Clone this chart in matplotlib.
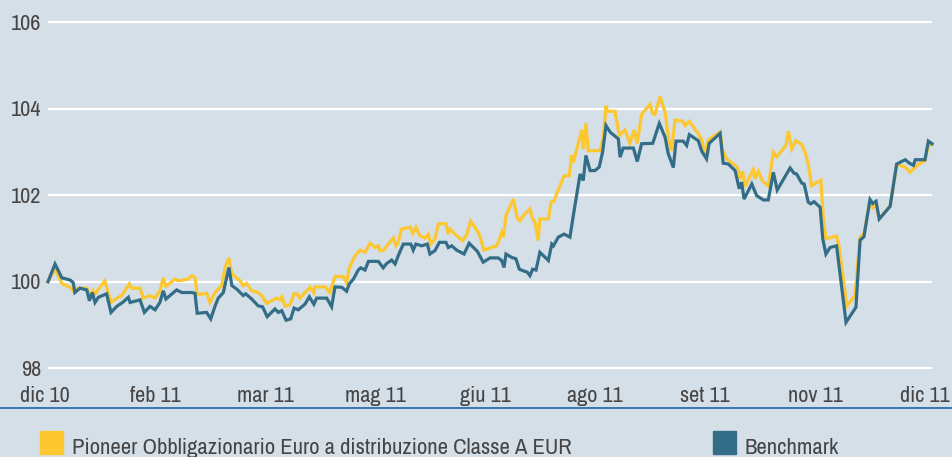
import matplotlib
matplotlib.use("Agg")
import matplotlib.pyplot as plt
import matplotlib.transforms as mtransforms
from matplotlib.patches import Rectangle

# values (x = days since the start, dic 10)
fund_days = [0, 2.9, 5.7, 9.1, 10.4, 12.5, 16.0, 17.3, 18.5, 19.4, 23.5, 26.0, 28.4, 30.4,
             33.6, 34.6, 38.0, 39.3, 42.1, 44.2, 46.2, 47.6, 48.7, 52.4, 53.8, 57.9, 59.3,
             60.7, 61.6, 65.5, 66.9, 69.0, 70.3, 71.7, 73.1, 74.7, 75.9, 79.3, 80.6, 82.0,
             84.1, 86.8, 88.2, 90.3, 92.4, 94.4, 95.8, 96.5, 97.9, 99.9, 101.6, 102.9, 104.0,
             106.1, 108.2, 109.8, 110.2, 114.4, 116.4, 118.5, 121.9, 123.3, 124.4, 126.8,
             128.8, 130.9, 133.0, 135.0, 136.4, 137.1, 138.4, 140.5, 142.6, 143.7, 144.6,
             146.0, 149.5, 150.6, 151.9, 153.6, 155.7, 157.0, 158.0, 159.8, 161.2, 164.3,
             165.3, 166.0, 168.0, 171.2, 172.9, 174.5, 176.3, 178.1, 180.0, 182.5, 185.3,
             185.9, 187.3, 188.0, 189.1, 192.1, 193.8, 194.9, 196.3, 199.0, 200.1, 201.1,
             202.4, 203.1, 206.6, 207.7, 208.9, 210.0, 213.1, 215.2, 216.2, 216.9, 220.4,
             221.0, 222.1, 223.1, 227.9, 229.3, 230.4, 230.9, 234.1, 235.9, 238.2, 240.3,
             242.0, 243.3, 245.1, 248.6, 249.7, 250.6, 252.7, 254.8, 256.1, 257.5, 258.9,
             262.1, 263.0, 264.8, 268.5, 269.9, 271.3, 272.6, 277.5, 278.6, 280.2, 283.7,
             285.0, 285.7, 286.8, 287.8, 291.2, 291.9, 293.3, 295.1, 297.4, 299.5, 300.9,
             304.7, 305.7, 307.1, 308.8, 311.2, 312.6, 313.9, 315.3, 319.1, 320.1, 321.2,
             325.6, 326.7, 329.8, 333.2, 335.3, 336.9, 339.4, 340.5, 341.9, 343.2, 347.7,
             350.4, 351.8, 353.9, 355.9, 359.3, 362.1, 363.5, 365.0]
fund_vals = [100.00, 100.30, 99.96, 99.87, 99.79, 99.85, 99.85, 99.68, 99.79, 99.72, 100.02,
             99.52, 99.62, 99.68, 99.95, 99.85, 99.85, 99.62, 99.68, 99.62, 99.79, 100.09,
             99.89, 100.06, 100.02, 100.06, 100.14, 100.10, 99.70, 99.73, 99.52, 99.75, 99.83,
             99.91, 100.33, 100.55, 100.18, 100.02, 99.91, 99.96, 99.79, 99.75, 99.68, 99.50,
             99.56, 99.62, 99.58, 99.65, 99.44, 99.47, 99.72, 99.72, 99.62, 99.75, 99.87,
             99.75, 99.88, 99.88, 99.75, 100.12, 100.12, 99.98, 100.32, 100.60, 100.73,
             100.68, 100.89, 100.79, 100.83, 100.72, 100.72, 100.87, 101.01, 100.83, 100.91,
             101.22, 101.26, 101.12, 101.26, 101.06, 101.01, 101.10, 100.87, 100.99, 101.34,
             101.34, 101.10, 101.22, 101.10, 100.95, 101.09, 101.40, 101.26, 101.09, 100.73,
             100.78, 100.83, 100.91, 101.14, 101.03, 101.53, 101.91, 101.47, 101.41, 101.53,
             101.68, 101.45, 101.37, 100.95, 101.45, 101.45, 101.84, 101.86, 102.03, 102.45,
             102.45, 102.92, 102.76, 103.51, 103.07, 103.66, 103.03, 103.03, 103.34, 104.07,
             103.94, 103.94, 103.38, 103.51, 103.20, 103.51, 103.20, 103.87, 104.10, 103.88,
             103.87, 104.28, 103.92, 103.34, 103.03, 103.74, 103.71, 103.61, 103.71, 103.42,
             103.28, 102.92, 103.28, 103.46, 103.03, 102.84, 102.69, 102.61, 102.38, 102.55,
             102.20, 102.59, 102.38, 102.55, 102.32, 102.22, 102.99, 102.89, 103.15, 103.48,
             103.07, 103.26, 103.17, 102.99, 102.72, 102.22, 102.35, 101.49, 100.99, 101.06,
             100.79, 99.44, 99.68, 101.03, 101.10, 101.87, 101.71, 101.80, 101.45, 101.76,
             102.69, 102.69, 102.65, 102.53, 102.71, 102.80, 103.15, 103.17]

bench_days = [0, 2.9, 5.7, 9.1, 10.4, 11.1, 13.2, 16.0, 17.1, 18.3, 19.4, 20.8, 24.2, 26.0,
              28.4, 30.8, 33.2, 33.9, 38.0, 39.8, 42.1, 44.2, 46.2, 47.6, 48.7, 53.1, 55.2,
              59.3, 60.7, 61.6, 65.5, 67.2, 69.0, 70.3, 72.4, 74.7, 75.9, 77.9, 80.6, 81.6,
              84.1, 86.8, 88.6, 90.5, 93.7, 95.1, 96.5, 98.3, 100.2, 101.6, 103.3, 106.1,
              107.9, 109.8, 110.9, 115.1, 117.1, 118.5, 121.3, 123.3, 124.4, 126.1, 128.1,
              129.1, 130.9, 132.3, 136.4, 138.4, 139.8, 141.9, 143.3, 144.6, 146.7, 149.8,
              150.8, 151.9, 154.3, 156.6, 157.7, 159.8, 161.6, 164.3, 165.3, 166.7, 168.7,
              171.8, 173.9, 177.3, 179.7, 182.5, 185.9, 187.3, 188.3, 189.1, 191.5, 193.2,
              194.6, 196.3, 197.9, 199.0, 200.1, 201.5, 203.1, 206.6, 208.0, 208.7, 210.7,
              213.1, 215.5, 216.9, 219.7, 221.0, 222.1, 223.8, 225.8, 227.6, 229.0, 230.4,
              232.1, 235.5, 236.2, 237.5, 241.7, 243.3, 245.1, 249.7, 252.4, 254.8, 256.1,
              258.2, 259.3, 262.3, 263.7, 264.8, 268.5, 269.9, 271.9, 273.0, 277.5, 278.8,
              280.9, 283.7, 285.4, 286.4, 287.4, 290.6, 292.6, 295.4, 297.4, 299.5, 301.1,
              306.4, 308.0, 309.1, 311.2, 312.2, 313.9, 314.9, 316.3, 318.8, 319.9, 321.2,
              322.9, 325.6, 329.5, 333.6, 335.3, 336.9, 339.4, 340.5, 341.9, 343.2, 347.7,
              350.4, 353.9, 355.7, 357.3, 358.1, 362.1, 363.5, 365.0]
bench_vals = [100.00, 100.41, 100.09, 100.04, 99.98, 99.75, 99.85, 99.81, 99.56, 99.75, 99.52,
              99.64, 99.72, 99.29, 99.43, 99.52, 99.64, 99.52, 99.58, 99.29, 99.43, 99.35,
              99.52, 99.79, 99.60, 99.81, 99.75, 99.75, 99.73, 99.27, 99.29, 99.14, 99.44,
              99.62, 99.75, 100.33, 99.91, 99.83, 99.68, 99.72, 99.60, 99.44, 99.42, 99.19,
              99.37, 99.29, 99.33, 99.11, 99.14, 99.39, 99.35, 99.48, 99.65, 99.48, 99.62,
              99.62, 99.42, 99.88, 99.87, 99.78, 99.95, 100.06, 100.27, 100.32, 100.27,
              100.47, 100.47, 100.32, 100.42, 100.50, 100.41, 100.60, 100.87, 100.87, 100.73,
              100.87, 100.83, 100.87, 100.64, 100.72, 100.91, 100.91, 100.79, 100.83, 100.73,
              100.64, 100.89, 100.70, 100.45, 100.55, 100.55, 100.49, 100.33, 100.64, 100.56,
              100.53, 100.29, 100.25, 100.22, 100.14, 100.29, 100.27, 100.68, 100.49, 100.87,
              100.83, 101.03, 101.10, 101.03, 101.53, 102.49, 102.34, 102.92, 102.57, 102.57,
              102.65, 103.00, 103.61, 103.46, 103.30, 102.88, 103.09, 103.09, 102.78, 103.19,
              103.20, 103.66, 103.34, 102.96, 102.64, 103.25, 103.25, 103.15, 103.40, 103.26,
              103.02, 102.84, 103.20, 103.43, 102.74, 102.72, 102.57, 102.15, 102.30, 101.91,
              102.26, 101.99, 101.89, 101.89, 102.53, 102.12, 102.63, 102.51, 102.49, 102.28,
              102.26, 101.84, 101.80, 101.85, 101.72, 100.99, 100.64, 100.79, 100.83, 99.06,
              99.41, 100.96, 101.04, 101.90, 101.81, 101.86, 101.45, 101.74, 102.72, 102.82,
              102.74, 102.69, 102.82, 102.82, 103.25, 103.19]

month_labels = ["dic 10", "feb 11", "mar 11", "mag 11", "giu 11", "ago 11", "set 11",
                "nov 11", "dic 11"]
y_ticks = [98, 100, 102, 104, 106]
legend_labels = ["Pioneer Obbligazionario Euro a distribuzione Classe A EUR", "Benchmark"]

BG = "#d5dfe7"
YELLOW = "#fdc72f"
BLUE = "#346d88"
TEXT = "#454545"
FONT = ["Archivo Narrow", "DejaVu Sans"]

W, H = 953, 457
fig = plt.figure(figsize=(W / 100, H / 100), dpi=100, facecolor=BG)
ax = fig.add_axes([0, 0, 1, 1])
ax.set_facecolor(BG)
ax.axis("off")

# pixel geometry of the original: day 0 at x=48, day 365 at x=932; 100 at y=281.7
px_day = 884 / 365
px_unit = 43.25
ax.set_xlim(-48 / px_day, 365 + (W - 932) / px_day)
ax.set_ylim(100 - (H - 281.7) / px_unit, 100 + 281.7 / px_unit)

ax.hlines(y_ticks, 0, 365, color="white", lw=1.6, zorder=1)

ax.plot(fund_days, fund_vals, color=YELLOW, lw=2.3, zorder=2, solid_joinstyle="miter")
ax.plot(bench_days, bench_vals, color=BLUE, lw=2.3, zorder=3, solid_joinstyle="miter")

# y labels, sitting left of the gridlines
ylab_tr = mtransforms.offset_copy(ax.transData, fig=fig, x=-6.3, y=-7.5, units="dots")
for v in y_ticks:
    ax.text(0, v, str(v), transform=ylab_tr, ha="right", va="baseline",
            fontsize=16, color=TEXT, family=FONT)

# x labels, evenly spread
for i, lab in enumerate(month_labels):
    fig.text((45 + 110 * i) / W, 1 - 402 / H, lab, ha="center", va="baseline",
             fontsize=16, color=TEXT, family=FONT)

# separator line
fig.add_artist(plt.Line2D([0, 1], [1 - 408 / H, 1 - 408 / H], color="#2b6ea8", lw=1.3))

# legend
for (x0, col, lab) in [(40, YELLOW, legend_labels[0]), (713, BLUE, legend_labels[1])]:
    fig.add_artist(Rectangle((x0 / W, 1 - 454 / H), 23 / W, 23 / H, color=col,
                             transform=fig.transFigure))
    fig.text((x0 + 32) / W, 1 - 454 / H, lab, ha="left", va="baseline",
             fontsize=16.3, color=TEXT, family=FONT)

fig.savefig("out.png", dpi=100, facecolor=BG)
